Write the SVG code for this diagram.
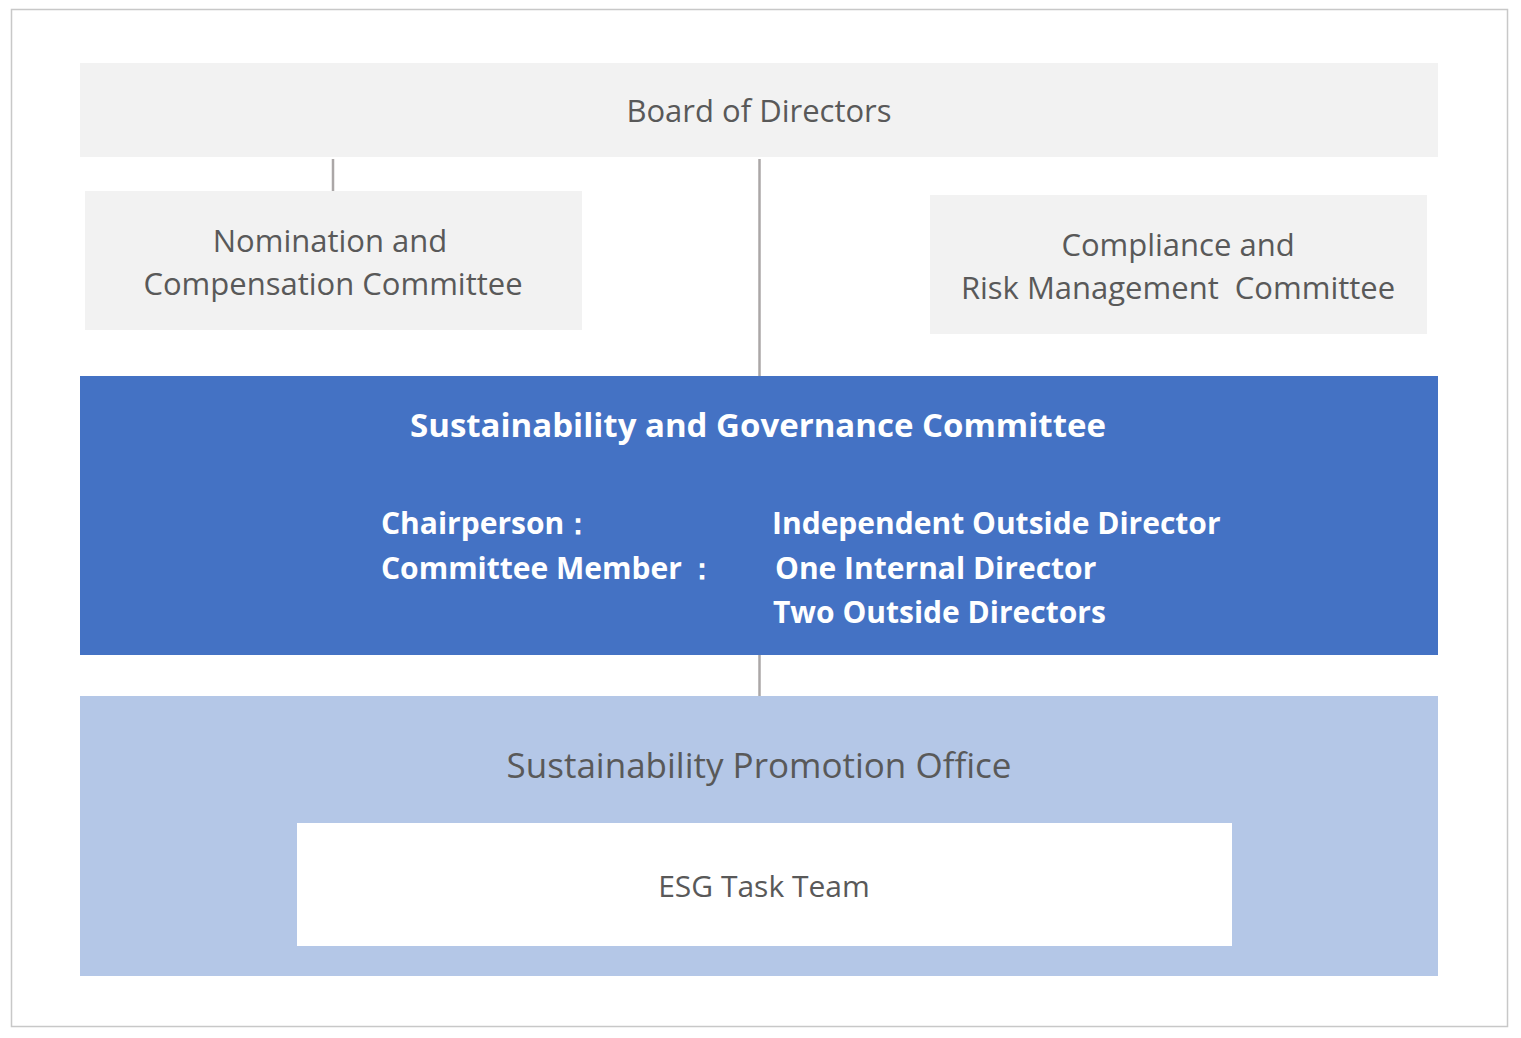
<svg xmlns="http://www.w3.org/2000/svg" width="1521" height="1038" viewBox="0 0 1521 1038">
<style>
.t{font-family:"Open Sans","Noto Sans","DejaVu Sans",sans-serif;font-size:31px;fill:#595959}
.b{font-family:"Open Sans","Noto Sans","DejaVu Sans",sans-serif;font-size:30px;font-weight:bold;fill:#ffffff}
.h{font-size:33px}
.big{font-size:35px}
.mid{font-size:30px}
.gray{fill:#f2f2f2}
.conn{stroke:#aba7a7;stroke-width:2.5;fill:none}
</style>
<rect x="11.5" y="9.5" width="1496" height="1017" fill="#ffffff" stroke="#c8c8c8" stroke-width="1.5"/>
<g id="connectors">
<line class="conn" x1="333" y1="159" x2="333" y2="191"/>
<line class="conn" x1="759.5" y1="159" x2="759.5" y2="376"/>
<line class="conn" x1="759.5" y1="655" x2="759.5" y2="696"/>
</g>
<g id="board">
<rect class="gray" x="80" y="63" width="1358" height="94"/>
<text class="t" x="759" y="122" text-anchor="middle">Board of Directors</text>
</g>
<g id="nomination">
<rect class="gray" x="85" y="191" width="497" height="139"/>
<text class="t" x="330" y="252" text-anchor="middle">Nomination and</text>
<text class="t" x="333" y="295" text-anchor="middle">Compensation Committee</text>
</g>
<g id="compliance">
<rect class="gray" x="930" y="195" width="497" height="139"/>
<text class="t" x="1178" y="256" text-anchor="middle">Compliance and</text>
<text class="t" x="1178" y="299" text-anchor="middle" xml:space="preserve">Risk Management  Committee</text>
</g>
<g id="sgc">
<rect x="80" y="376" width="1358" height="279" fill="#4472c4"/>
<text class="b h" x="758" y="437" text-anchor="middle">Sustainability and Governance Committee</text>
<text class="b" x="381" y="534">Chairperson<tspan x="563">：</tspan></text>
<text class="b" x="381" y="579">Committee Member<tspan x="687">：</tspan></text>
<text class="b" x="772" y="534">Independent Outside Director</text>
<text class="b" x="775" y="579">One Internal Director</text>
<text class="b" x="773" y="623">Two Outside Directors</text>
</g>
<g id="office">
<rect x="80" y="696" width="1358" height="280" fill="#b4c7e7"/>
<text class="t big" x="759" y="778" text-anchor="middle">Sustainability Promotion Office</text>
</g>
<g id="esg">
<rect x="297" y="823" width="935" height="123" fill="#ffffff"/>
<text class="t mid" x="764" y="897" text-anchor="middle">ESG Task Team</text>
</g>
</svg>
